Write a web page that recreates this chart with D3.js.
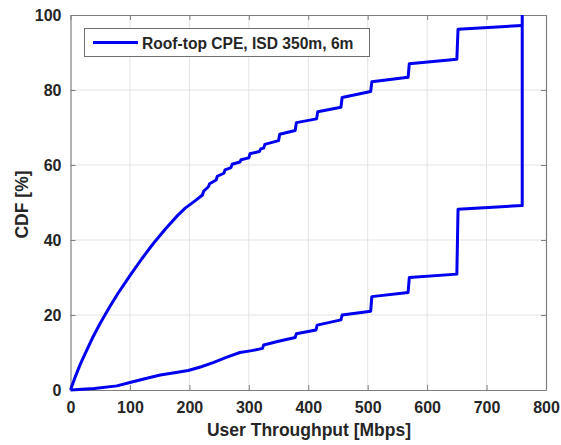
<!DOCTYPE html>
<html>
<head>
<meta charset="utf-8">
<script src="https://cdn.jsdelivr.net/npm/d3@7"></script>
<style>
  html, body { margin: 0; padding: 0; background: #ffffff; }
  svg { display: block; }
  text { font-family: "Liberation Sans", Arial, Helvetica, sans-serif; }
</style>
</head>
<body>
<svg id="chart" width="561" height="445"></svg>
<script>
// ---- Data ----
const xTicks = [0, 100, 200, 300, 400, 500, 600, 700, 800];
const yTicks = [0, 20, 40, 60, 80, 100];
const legendLabel = "Roof-top CPE, ISD 350m, 6m";
const xLabel = "User Throughput [Mbps]";
const yLabel = "CDF [%]";

// upper branch (throughput Mbps, CDF %)
const upperX = [0, 8, 16, 27, 38, 50, 66, 80, 100, 120, 139, 160, 180, 193, 210, 222, 224, 232, 234, 245, 247, 258, 260, 270, 272, 285, 287, 300, 302, 318, 320, 325, 327, 350, 352, 378, 380, 414, 416, 455, 457, 505, 507, 568, 570, 650, 652, 759, 760];
const upperY = [0, 3.5, 6.7, 10.5, 14.2, 17.8, 22.2, 25.8, 30.5, 35, 39, 43, 46.5, 48.5, 50.5, 52, 53, 54.2, 55, 56, 57, 57.8, 58.7, 59.3, 60.2, 60.8, 61.4, 61.9, 63, 63.6, 64.3, 64.5, 65.5, 66.5, 68.2, 69.2, 71.3, 72.3, 74.2, 75.4, 78, 79.6, 82.2, 83.4, 87, 88.2, 96.2, 97.2, 97.2];

// lower branch
const lowerX = [0, 40, 78, 100, 125, 151, 175, 198, 220, 240, 262, 285, 305, 323, 325, 350, 378, 380, 413, 415, 455, 457, 505, 507, 568, 570, 650, 652, 759, 760, 760];
const lowerY = [0, 0.4, 1.1, 2, 3, 4, 4.6, 5.2, 6.2, 7.3, 8.7, 10, 10.5, 11.1, 12, 13, 14, 15, 16, 17.3, 18.7, 20, 21, 24.9, 26, 30, 30.9, 48.2, 49.2, 49.2, 100];

// ---- Layout ----
const svg = d3.select("#chart");
const mLeft = 70.5, mRight = 546, mTop = 15, mBottom = 390;
const lineColor = "#0000ee";
const textColor = "#262626";
const axisColor = "#7f7f7f";

const x = d3.scaleLinear().domain([0, 800]).range([mLeft, mRight]);
const y = d3.scaleLinear().domain([0, 100]).range([mBottom, mTop]);

// grid
const grid = svg.append("g");
grid.selectAll(".gx").data(xTicks.slice(1, -1)).join("line")
  .attr("x1", d => x(d)).attr("x2", d => x(d))
  .attr("y1", mTop).attr("y2", mBottom)
  .attr("stroke", "#e3e3e3").attr("stroke-width", 1);
grid.selectAll(".gy").data(yTicks.slice(1, -1)).join("line")
  .attr("x1", mLeft).attr("x2", mRight)
  .attr("y1", d => y(d)).attr("y2", d => y(d))
  .attr("stroke", "#e3e3e3").attr("stroke-width", 1);

// axes
function styleAxis(g) {
  g.select(".domain").attr("stroke", axisColor).attr("stroke-width", 1.2);
  g.selectAll(".tick line").attr("stroke", axisColor).attr("stroke-width", 1);
  g.selectAll(".tick text").attr("fill", textColor)
    .attr("font-size", "16px").attr("font-weight", "bold");
}
const xAxis = svg.append("g").attr("transform", `translate(0,${mBottom})`)
  .call(d3.axisBottom(x).tickValues(xTicks).tickSize(-5).tickPadding(12).tickSizeOuter(0));
styleAxis(xAxis);
const xAxisTop = svg.append("g").attr("transform", `translate(0,${mTop})`)
  .call(d3.axisTop(x).tickValues(xTicks).tickSize(-5).tickFormat("").tickSizeOuter(0));
styleAxis(xAxisTop);
const yAxis = svg.append("g").attr("transform", `translate(${mLeft},0)`)
  .call(d3.axisLeft(y).tickValues(yTicks).tickSize(-5).tickPadding(9).tickSizeOuter(0));
styleAxis(yAxis);
const yAxisRight = svg.append("g").attr("transform", `translate(${mRight},0)`)
  .call(d3.axisRight(y).tickValues(yTicks).tickSize(-5).tickFormat("").tickSizeOuter(0));
styleAxis(yAxisRight);

// lines
const line = d3.line().x(d => x(d[0])).y(d => y(d[1]));
const upper = upperX.map((v, i) => [v, upperY[i]]);
const lower = lowerX.map((v, i) => [v, lowerY[i]]);
[upper, lower].forEach(data => {
  svg.append("path").datum(data)
    .attr("d", line)
    .attr("fill", "none")
    .attr("stroke", lineColor)
    .attr("stroke-width", 3)
    .attr("stroke-linejoin", "round");
});

// axis labels
svg.append("text")
  .attr("x", 309).attr("y", 436)
  .attr("text-anchor", "middle")
  .attr("font-size", "17.5px").attr("font-weight", "bold").attr("fill", textColor)
  .text(xLabel);
svg.append("text")
  .attr("transform", `translate(28,204.5) rotate(-90)`)
  .attr("text-anchor", "middle")
  .attr("font-size", "17.5px").attr("font-weight", "bold").attr("fill", textColor)
  .text(yLabel);

// legend
const lg = svg.append("g");
lg.append("rect").attr("x", 84.5).attr("y", 28.5).attr("width", 285).attr("height", 28)
  .attr("fill", "#ffffff").attr("stroke", "#6f6f6f").attr("stroke-width", 1);
lg.append("line").attr("x1", 93).attr("x2", 138).attr("y1", 42.5).attr("y2", 42.5)
  .attr("stroke", lineColor).attr("stroke-width", 3);
lg.append("text").attr("x", 142).attr("y", 48.5)
  .attr("font-size", "15.6px").attr("font-weight", "bold").attr("fill", textColor)
  .text(legendLabel);
</script>
</body>
</html>
